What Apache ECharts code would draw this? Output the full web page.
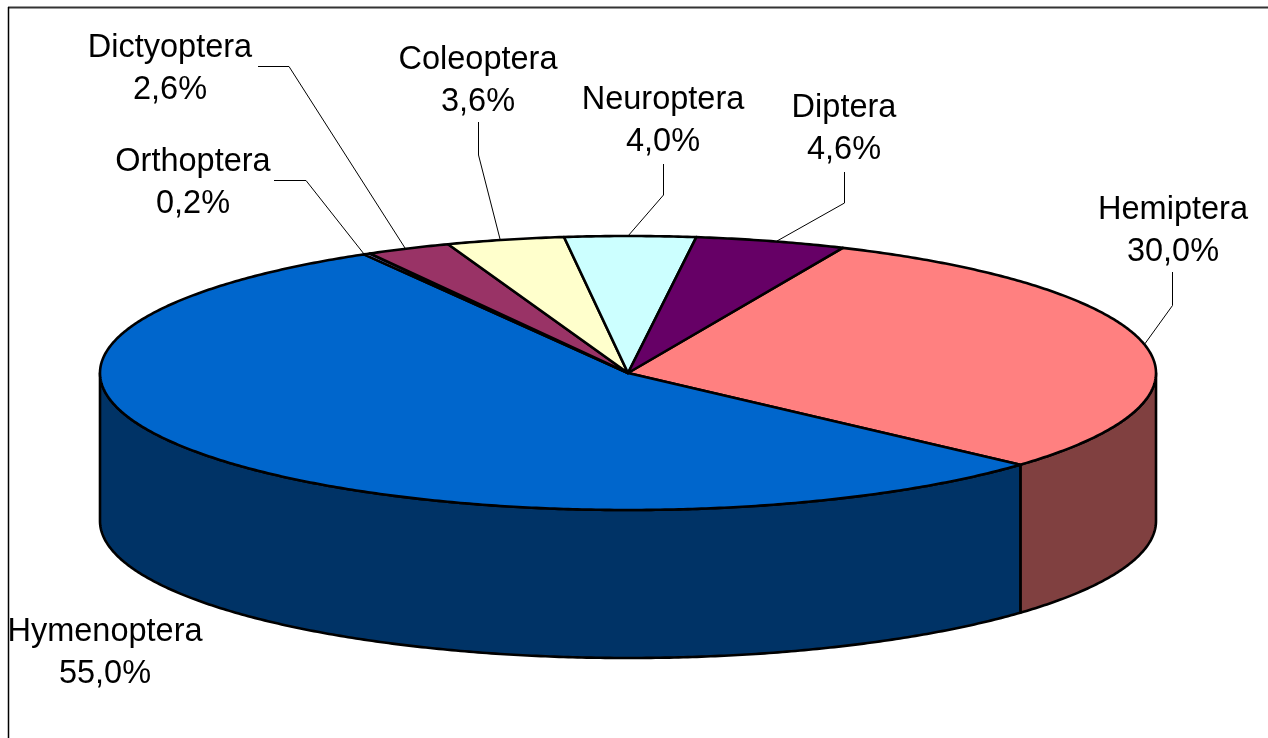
<!DOCTYPE html>
<html>
<head>
<meta charset="utf-8">
<style>html,body{margin:0;padding:0;background:#fff}#chart{width:1268px;height:738px}</style>
<script src="https://cdn.jsdelivr.net/npm/echarts@6/dist/echarts.min.js"></script>
</head>
<body>
<div id="chart"></div>
<script>
// Data, clockwise from the Diptera/Hemiptera edge
const categories = ['Hemiptera', 'Hymenoptera', 'Orthoptera', 'Dictyoptera', 'Coleoptera', 'Neuroptera', 'Diptera'];
const shares = [30.0, 55.0, 0.2, 2.6, 3.6, 4.0, 4.6];

// Styles
const topColors = ['#FF8080', '#0066CC', '#9999FF', '#993366', '#FFFFCC', '#CCFFFF', '#660066'];
const sideColors = ['#804040', '#003366', '#4D4D80', '#4D1A33', '#808066', '#668080', '#330033'];

// Layout (label centre and leader polylines)
const geometry = { cx: 628, cy: 373, rx: 528, ry: 137, depth: 148, startDeg: 24 };
const labelLayout = {
  Hemiptera:   { x: 1173, y: 231, leader: [[1172.5, 272], [1172.5, 305.5], [1144, 345]] },
  Hymenoptera: { x: 105,  y: 653, leader: null },
  Orthoptera:  { x: 193,  y: 183, leader: [[274, 180.5], [306, 180.5], [364, 254]] },
  Dictyoptera: { x: 170,  y: 69,  leader: [[258, 66.5], [289, 66.5], [405, 248]] },
  Coleoptera:  { x: 478,  y: 81,  leader: [[478.5, 122], [478.5, 155], [500, 239]] },
  Neuroptera:  { x: 663,  y: 121, leader: [[663.5, 164], [663.5, 195], [628, 236]] },
  Diptera:     { x: 844,  y: 129, leader: [[844.5, 172], [844.5, 203], [777, 241]] }
};

const total = shares.reduce((a, b) => a + b, 0);
const rad = d => d * Math.PI / 180;

function rim(deg, dy) {
  return [
    geometry.cx + geometry.rx * Math.sin(rad(deg)),
    geometry.cy - geometry.ry * Math.cos(rad(deg)) + (dy || 0)
  ];
}
function arc(a0, a1, dy) {
  const n = Math.max(2, Math.ceil(Math.abs(a1 - a0) * 2));
  const pts = [];
  for (let i = 0; i <= n; i++) pts.push(rim(a0 + (a1 - a0) * i / n, dy));
  return pts;
}

function renderSlice(params, api) {
  const i = params.dataIndex;
  const value = api.value(0);
  let before = 0;
  for (let k = 0; k < i; k++) before += shares[k];
  const a0 = geometry.startDeg + before / total * 360;
  const a1 = a0 + value / total * 360;
  const children = [];
  const outline = { stroke: '#000', lineWidth: 2.6, lineJoin: 'round' };

  // Front wall: only the part of the rim facing the viewer (90 to 270 degrees)
  const w0 = Math.max(a0, 90), w1 = Math.min(a1, 270);
  if (w1 > w0) {
    const upper = arc(w0, w1, 0);
    const lower = arc(w1, w0, geometry.depth);
    children.push({
      type: 'polygon', z2: 1,
      shape: { points: upper.concat(lower) },
      style: Object.assign({ fill: sideColors[i] }, outline)
    });
  }
  // Top face
  children.push({
    type: 'polygon', z2: 2,
    shape: { points: [[geometry.cx, geometry.cy]].concat(arc(a0, a1, 0)) },
    style: Object.assign({ fill: topColors[i] }, outline)
  });
  // Leader line and label
  const name = categories[i];
  const lay = labelLayout[name];
  if (lay.leader) {
    children.push({
      type: 'polyline', z2: 3,
      shape: { points: lay.leader },
      style: { fill: 'none', stroke: '#000', lineWidth: 1 }
    });
  }
  children.push({
    type: 'text', z2: 4,
    x: lay.x, y: lay.y,
    style: {
      text: name + '\n' + value.toFixed(1).replace('.', ',') + '%',
      fill: '#000',
      font: '32.5px "Liberation Sans", Arial, sans-serif',
      lineHeight: 41.5,
      align: 'center',
      verticalAlign: 'middle'
    }
  });
  return { type: 'group', children };
}

const chart = echarts.init(document.getElementById('chart'), null, { renderer: 'canvas' });
chart.setOption({
  animation: false,
  backgroundColor: '#fff',
  graphic: [
    { type: 'line', z: 0, shape: { x1: 8, y1: 7.5, x2: 1268, y2: 7.5 }, style: { stroke: '#333', lineWidth: 2 } },
    { type: 'line', z: 0, shape: { x1: 8.5, y1: 7, x2: 8.5, y2: 738 }, style: { stroke: '#000', lineWidth: 1.5 } }
  ],
  series: [{
    type: 'custom',
    coordinateSystem: 'none',
    renderItem: renderSlice,
    data: categories.map((c, i) => ({ name: c, value: [shares[i]] }))
  }]
});
</script>
</body>
</html>
